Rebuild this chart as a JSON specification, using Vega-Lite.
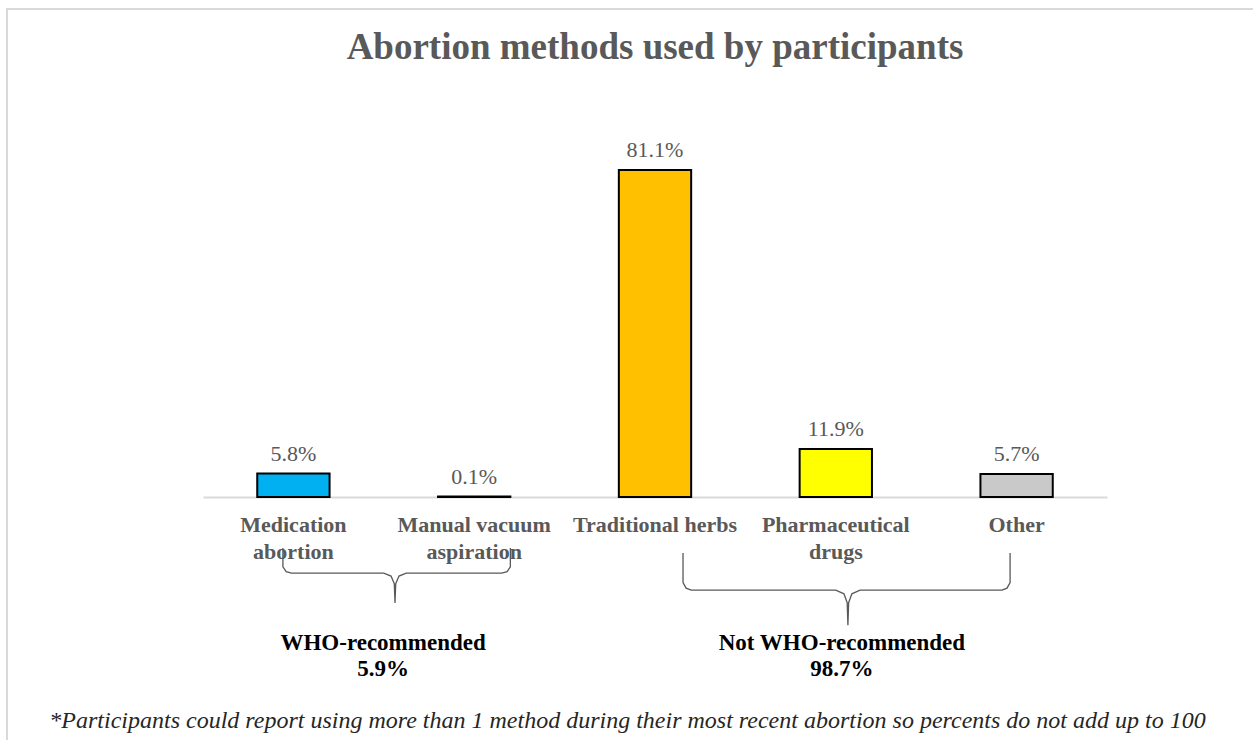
{
  "$schema": "https://vega.github.io/schema/vega-lite/v6.json",
  "width": 904,
  "height": 363,
  "autosize": "none",
  "padding": {"left": 203, "top": 134, "right": 146, "bottom": 243},
  "background": "white",
  "config": {"view": {"stroke": null}, "font": "Liberation Serif"},
  "title": {
    "text": "Abortion methods used by participants",
    "fontSize": 37,
    "font": "Liberation Serif",
    "fontWeight": "bold",
    "color": "#595959",
    "anchor": "middle",
    "frame": "group",
    "baseline": "alphabetic",
    "offset": 0,
    "dy": 88
  },
  "datasets": {
    "methods": [
      {"method": "Medication abortion", "pct": 5.8, "label": "5.8%"},
      {"method": "Manual vacuum aspiration", "pct": 0.1, "label": "0.1%"},
      {"method": "Traditional herbs", "pct": 81.1, "label": "81.1%"},
      {"method": "Pharmaceutical drugs", "pct": 11.9, "label": "11.9%"},
      {"method": "Other", "pct": 5.7, "label": "5.7%"}
    ],
    "braces": [
      {"brace": "L", "ord": 1, "pos": 0.442, "yv": -12.65},
      {"brace": "L", "ord": 2, "pos": 0.442, "yv": -17.3},
      {"brace": "L", "ord": 3, "pos": 0.46, "yv": -18.5},
      {"brace": "L", "ord": 4, "pos": 0.49, "yv": -18.86},
      {"brace": "L", "ord": 5, "pos": 1.0, "yv": -18.86},
      {"brace": "L", "ord": 6, "pos": 1.04, "yv": -19.6},
      {"brace": "L", "ord": 7, "pos": 1.058, "yv": -21.5},
      {"brace": "L", "ord": 8, "pos": 1.062, "yv": -26.3},
      {"brace": "L", "ord": 9, "pos": 1.066, "yv": -21.5},
      {"brace": "L", "ord": 10, "pos": 1.084, "yv": -19.6},
      {"brace": "L", "ord": 11, "pos": 1.124, "yv": -18.86},
      {"brace": "L", "ord": 12, "pos": 1.652, "yv": -18.86},
      {"brace": "L", "ord": 13, "pos": 1.682, "yv": -18.5},
      {"brace": "L", "ord": 14, "pos": 1.7, "yv": -17.3},
      {"brace": "L", "ord": 15, "pos": 1.7, "yv": -12.65},
      {"brace": "R", "ord": 1, "pos": 2.655, "yv": -13.9},
      {"brace": "R", "ord": 2, "pos": 2.655, "yv": -21.2},
      {"brace": "R", "ord": 3, "pos": 2.672, "yv": -22.6},
      {"brace": "R", "ord": 4, "pos": 2.7, "yv": -23.1},
      {"brace": "R", "ord": 5, "pos": 3.5, "yv": -23.1},
      {"brace": "R", "ord": 6, "pos": 3.545, "yv": -24.0},
      {"brace": "R", "ord": 7, "pos": 3.563, "yv": -26.2},
      {"brace": "R", "ord": 8, "pos": 3.567, "yv": -31.8},
      {"brace": "R", "ord": 9, "pos": 3.571, "yv": -26.2},
      {"brace": "R", "ord": 10, "pos": 3.589, "yv": -24.0},
      {"brace": "R", "ord": 11, "pos": 3.634, "yv": -23.1},
      {"brace": "R", "ord": 12, "pos": 4.419, "yv": -23.1},
      {"brace": "R", "ord": 13, "pos": 4.447, "yv": -22.6},
      {"brace": "R", "ord": 14, "pos": 4.464, "yv": -21.2},
      {"brace": "R", "ord": 15, "pos": 4.464, "yv": -13.9}
    ],
    "groups": [
      {"group": "WHO-recommended\n5.9%", "pos": 0.996, "yv": -33.4},
      {"group": "Not WHO-recommended\n98.7%", "pos": 3.534, "yv": -33.4}
    ],
    "notes": [
      {"note": "*Participants could report using more than 1 method during their most recent abortion so percents do not add up to 100", "pos": 2.348, "yv": -55.6}
    ],
    "frame": [
      {"x1": -1.084, "x2": 5.85, "y1": 121.0, "y2": -62.0}
    ]
  },
  "layer": [
    {
      "data": {"name": "methods"},
      "encoding": {
        "x": {
          "field": "method",
          "type": "nominal",
          "sort": null,
          "scale": {"paddingInner": 0.6, "paddingOuter": 0.3},
          "axis": {
            "title": null,
            "labelAngle": 0,
            "ticks": false,
            "domainColor": "#D9D9D9",
            "domainWidth": 2,
            "labelFont": "Liberation Serif",
            "labelFontSize": 22,
            "labelFontWeight": "bold",
            "labelColor": "#595959",
            "labelPadding": 17,
            "labelLineHeight": 27,
            "labelLimit": 0,
            "labelExpr": "datum.label == 'Medication abortion' ? ['Medication', 'abortion'] : datum.label == 'Manual vacuum aspiration' ? ['Manual vacuum', 'aspiration'] : datum.label == 'Pharmaceutical drugs' ? ['Pharmaceutical', 'drugs'] : datum.label"
          }
        },
        "y": {
          "field": "pct",
          "type": "quantitative",
          "scale": {"domain": [0, 90], "nice": false, "zero": true},
          "axis": null
        }
      },
      "layer": [
        {
          "mark": {"type": "bar", "stroke": "#000000", "strokeWidth": 2},
          "encoding": {
            "color": {
              "field": "method",
              "type": "nominal",
              "sort": null,
              "scale": {
                "domain": ["Medication abortion", "Manual vacuum aspiration", "Traditional herbs", "Pharmaceutical drugs", "Other"],
                "range": ["#00B0F0", "#7F7F7F", "#FFC000", "#FFFF00", "#C9C9C9"]
              },
              "legend": null
            }
          }
        },
        {
          "mark": {"type": "text", "baseline": "bottom", "dy": -8, "fontSize": 22, "font": "Liberation Serif", "color": "#595959"},
          "encoding": {"text": {"field": "label"}}
        }
      ]
    },
    {
      "layer": [
        {
          "data": {"name": "frame"},
          "mark": {"type": "rect", "fill": null, "stroke": "#D9D9D9", "strokeWidth": 2},
          "encoding": {
            "x": {"field": "x1", "type": "quantitative", "scale": {"domain": [0, 5], "nice": false, "zero": false}, "axis": null},
            "x2": {"field": "x2"},
            "y": {"field": "y1", "type": "quantitative", "scale": {"domain": [0, 90], "nice": false}, "axis": null},
            "y2": {"field": "y2"}
          }
        },
        {
          "data": {"name": "braces"},
          "mark": {"type": "line", "stroke": "#595959", "strokeWidth": 1.3},
          "encoding": {
            "x": {"field": "pos", "type": "quantitative", "scale": {"domain": [0, 5], "nice": false, "zero": false}, "axis": null},
            "y": {"field": "yv", "type": "quantitative", "scale": {"domain": [0, 90], "nice": false}, "axis": null},
            "detail": {"field": "brace"},
            "order": {"field": "ord", "type": "quantitative"}
          }
        },
        {
          "data": {"name": "groups"},
          "mark": {"type": "text", "baseline": "top", "align": "center", "lineBreak": "\n", "lineHeight": 26, "fontSize": 23, "fontWeight": "bold", "font": "Liberation Serif", "color": "#000000"},
          "encoding": {
            "x": {"field": "pos", "type": "quantitative", "scale": {"domain": [0, 5], "nice": false, "zero": false}, "axis": null},
            "y": {"field": "yv", "type": "quantitative", "scale": {"domain": [0, 90], "nice": false}, "axis": null},
            "text": {"field": "group"}
          }
        },
        {
          "data": {"name": "notes"},
          "mark": {"type": "text", "baseline": "middle", "align": "center", "fontSize": 24, "fontStyle": "italic", "font": "Liberation Serif", "color": "#262626"},
          "encoding": {
            "x": {"field": "pos", "type": "quantitative", "scale": {"domain": [0, 5], "nice": false, "zero": false}, "axis": null},
            "y": {"field": "yv", "type": "quantitative", "scale": {"domain": [0, 90], "nice": false}, "axis": null},
            "text": {"field": "note"}
          }
        }
      ]
    }
  ],
  "resolve": {"scale": {"x": "independent"}}
}
